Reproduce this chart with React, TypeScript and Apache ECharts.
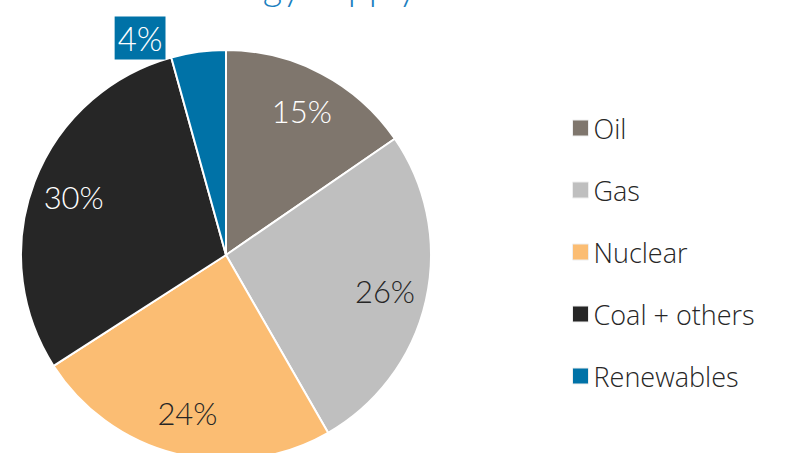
import React, { useEffect, useRef } from "react";
import * as echarts from "echarts";

const categories = ["Oil", "Gas", "Nuclear", "Coal + others", "Renewables"];
const shares = [15.4, 26.3, 24.2, 29.8, 4.3];
const colors = ["#7f766d", "#bfbfbf", "#fbbd73", "#262626", "#0072a7"];
const labelColors = ["#ffffff", "#262626", "#262626", "#ffffff", "#ffffff"];
const titleText = "Energy supply";

const FONT = "Lato, 'Open Sans', sans-serif";
const LEGEND_FONT = "'Open Sans', Lato, sans-serif";

export default function App() {
  const ref = useRef<HTMLDivElement>(null);
  useEffect(() => {
    if (!ref.current) return;
    const chart = echarts.init(ref.current, null, { renderer: "svg" });
    const data = categories.map((name, i) => ({
      name,
      value: shares[i],
      itemStyle: { color: colors[i] },
    }));
    const labelData = categories.map((name, i) => {
      const isSmall = shares[i] < 8;
      return {
        name,
        value: shares[i],
        itemStyle: { color: "rgba(0,0,0,0)", borderWidth: 0 },
        label: isSmall
          ? {
              show: true,
              position: "outside",
              color: "#ffffff",
              fontSize: 33,
              backgroundColor: colors[i],
              padding: [7, 3, 3, 3],
            }
          : { show: true, position: "inside", color: labelColors[i] },
        labelLine: { show: false, length: 14, length2: 26 },
      };
    });
    chart.setOption({
      animation: false,
      backgroundColor: "#ffffff",
      textStyle: { fontFamily: FONT },
      graphic: [
        {
          type: "text",
          x: 188,
          y: -34,
          style: {
            text: titleText,
            fontSize: 38,
            fontFamily: FONT,
            fontWeight: 300,
            fill: "#1b80c0",
            verticalAlign: "top",
          },
        },
      ],
      legend: {
        orient: "vertical",
        left: 567,
        top: 107,
        icon: "rect",
        itemWidth: 16,
        itemHeight: 16,
        itemGap: 30,
        itemStyle: { borderColor: "#eeeeee", borderWidth: 1 },
        data: categories,
        textStyle: {
          fontSize: 27,
          lineHeight: 32,
          color: "#262626",
          fontFamily: LEGEND_FONT,
          fontWeight: 300,
        },
      },
      series: [
        {
          type: "pie",
          center: [226, 255],
          radius: 205,
          startAngle: 90,
          clockwise: true,
          avoidLabelOverlap: false,
          label: { show: false },
          labelLine: { show: false },
          itemStyle: { borderColor: "#ffffff", borderWidth: 2 },
          emphasis: { disabled: true },
          data,
        },
        {
          type: "pie",
          center: [226, 255],
          radius: [115, 205],
          startAngle: 90,
          clockwise: true,
          avoidLabelOverlap: false,
          silent: true,
          label: {
            show: true,
            fontSize: 31,
            fontFamily: FONT,
            fontWeight: 300,
            formatter: (p: any) => Math.round(p.value) + "%",
          },
          emphasis: { disabled: true },
          data: labelData,
        },
      ],
    });
    return () => chart.dispose();
  }, []);
  return (
    <div
      ref={ref}
      style={{ position: "fixed", left: 0, top: 0, width: 802, height: 453 }}
    />
  );
}
